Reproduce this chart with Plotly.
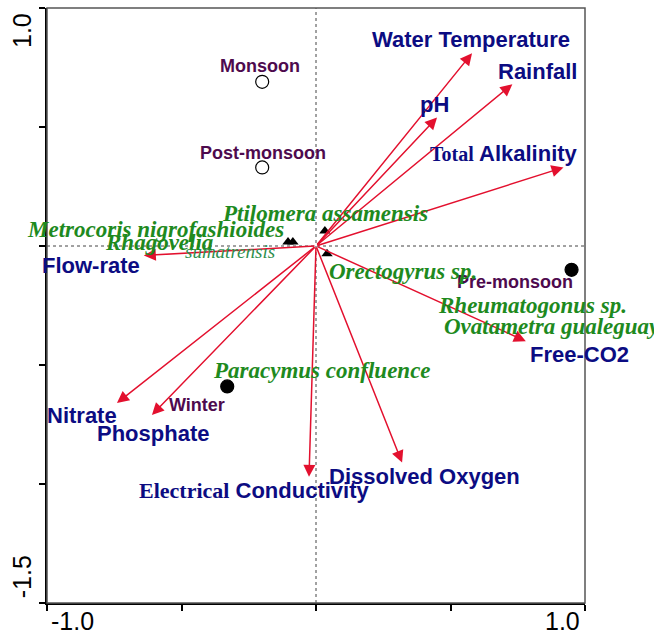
import plotly.graph_objects as go

# ---- Data ----
env_names = ["Water Temperature", "Rainfall", "pH", "Total Alkalinity", "Flow-rate",
             "Nitrate", "Phosphate", "Electrical Conductivity", "Dissolved Oxygen", "Free-CO2"]
env_x = [0.58, 0.73, 0.45, 0.92, -0.64, -0.74, -0.61, -0.026, 0.32, 0.78]
env_y = [0.81, 0.68, 0.54, 0.33, -0.04, -0.66, -0.71, -0.97, -0.91, -0.40]

site_names = ["Monsoon", "Post-monsoon", "Winter", "Pre-monsoon"]
site_x = [-0.20, -0.20, -0.33, 0.95]
site_y = [0.69, 0.33, -0.59, -0.10]
site_filled = [False, False, True, True]

species_x = [-0.104, -0.086, 0.033, 0.041]
species_y = [0.017, 0.017, 0.063, -0.033]
species_names = ["Metrocoris nigrofashioides", "Rhagovelia", "sumatrensis", "Ptilomera assamensis",
                 "Orectogyrus sp.", "Rheumatogonus sp.", "Ovatametra gualeguay", "Paracymus confluence"]

x_tick_vals = [-1.0, -0.5, 0.0, 0.5, 1.0]
y_tick_vals = [-1.5, -1.0, -0.5, 0.0, 0.5, 1.0]

# ---- Label placement (layout) ----
env_lab_pos = [(0.576, 0.866), (0.822, 0.732), (0.442, 0.594), (0.70, 0.389), (-0.836, -0.084),
               (-0.870, -0.711), (-0.606, -0.787), (-0.227, -1.029), (0.405, -0.967), (0.981, -0.456)]
site_lab_pos = [(-0.208, 0.757), (-0.197, 0.389), (-0.442, -0.669), (0.740, -0.151)]
species_lab_pos = [(-0.595, 0.071), (-0.584, 0.013), (-0.320, -0.021), (0.033, 0.138),
                   (0.325, -0.109), (0.803, -0.251), (0.468, -0.339), (0.022, -0.523)]

RED = "#E3102E"
NAVY = "#0C0C82"
PURPLE = "#4E0A4E"
GREEN = "#1E8A1E"
SANS = "Liberation Sans, Arial, sans-serif"
SERIF = "Liberation Serif, Times New Roman, serif"

fig = go.Figure()

# sites
fig.add_trace(go.Scatter(
    x=site_x, y=site_y, mode="markers",
    marker=dict(symbol="circle", size=13,
                color=["black" if f else "white" for f in site_filled],
                line=dict(color="black", width=1.2)),
    showlegend=False, hoverinfo="skip"))

# species
fig.add_trace(go.Scatter(
    x=species_x, y=species_y, mode="markers",
    marker=dict(symbol="triangle-up", size=10, color="black"),
    showlegend=False, hoverinfo="skip"))

annotations = []
# arrows
for ex, ey in zip(env_x, env_y):
    annotations.append(dict(x=ex, y=ey, ax=0, ay=0, xref="x", yref="y", axref="x", ayref="y",
                            text="", showarrow=True, arrowhead=2, arrowsize=1.6,
                            arrowwidth=1.5, arrowcolor=RED))

# env labels
for name, (lx, ly) in zip(env_names, env_lab_pos):
    if name == "Total Alkalinity":
        txt = f"<span style='font-family:{SERIF};font-size:20px'>Total</span> Alkalinity"
    elif name == "Electrical Conductivity":
        txt = f"<span style='font-family:{SERIF};font-size:22px'>Electrical</span> Conductivity"
    else:
        txt = name
    annotations.append(dict(x=lx, y=ly, xref="x", yref="y", text=f"<b>{txt}</b>", showarrow=False,
                            xanchor="center", yanchor="middle",
                            font=dict(family=SANS, size=22, color=NAVY)))

# site labels
for name, (lx, ly) in zip(site_names, site_lab_pos):
    annotations.append(dict(x=lx, y=ly, xref="x", yref="y", text=f"<b>{name}</b>", showarrow=False,
                            xanchor="center", yanchor="middle",
                            font=dict(family=SANS, size=18, color=PURPLE)))

# species labels
for name, (lx, ly) in zip(species_names, species_lab_pos):
    if name == "sumatrensis":
        annotations.append(dict(x=lx, y=ly, xref="x", yref="y", text=f"<i>{name}</i>", showarrow=False,
                                xanchor="center", yanchor="middle",
                                font=dict(family=SERIF, size=19, color="#2E8F4E")))
    else:
        xa = "left" if name == "Ovatametra gualeguay" else "center"
        annotations.append(dict(x=lx, y=ly, xref="x", yref="y", text=f"<b><i>{name}</i></b>",
                                showarrow=False, xanchor=xa, yanchor="middle",
                                font=dict(family=SERIF, size=23, color=GREEN)))

# tick labels (placed inward like the original)
tick_font = dict(family=SANS, size=25, color="black")
annotations += [
    dict(x=-0.0465, y=0.963, xref="paper", yref="paper", text="1.0", textangle=-90, showarrow=False,
         xanchor="center", yanchor="middle", font=tick_font),
    dict(x=-0.0465, y=0.045, xref="paper", yref="paper", text="-1.5", textangle=-90, showarrow=False,
         xanchor="center", yanchor="middle", font=tick_font),
    dict(x=0.048, y=-0.031, xref="paper", yref="paper", text="-1.0", showarrow=False,
         xanchor="center", yanchor="middle", font=dict(family=SANS, size=25, color="black")),
    dict(x=0.959, y=-0.031, xref="paper", yref="paper", text="1.0", showarrow=False,
         xanchor="center", yanchor="middle", font=dict(family=SANS, size=25, color="black")),
]

shapes = [
    dict(type="line", x0=0, x1=0, y0=y_tick_vals[0], y1=y_tick_vals[-1], xref="x", yref="y",
         line=dict(color="#444444", width=1, dash="dot"), layer="below"),
    dict(type="line", x0=x_tick_vals[0], x1=x_tick_vals[-1], y0=0, y1=0, xref="x", yref="y",
         line=dict(color="#444444", width=1, dash="dot"), layer="below"),
    dict(type="rect", x0=0, x1=1, y0=0, y1=1, xref="paper", yref="paper",
         line=dict(color="#555555", width=1.5)),
]

fig.update_layout(
    width=654, height=637,
    margin=dict(l=47, r=69, t=8, b=34),
    paper_bgcolor="white", plot_bgcolor="white",
    annotations=annotations, shapes=shapes,
    xaxis=dict(range=[x_tick_vals[0], x_tick_vals[-1]], tickvals=x_tick_vals, showticklabels=False,
               ticks="outside", ticklen=6, tickwidth=2, tickcolor="black",
               showline=True, linewidth=2, linecolor="black", showgrid=False, zeroline=False),
    yaxis=dict(range=[y_tick_vals[0], y_tick_vals[-1]], tickvals=y_tick_vals, showticklabels=False,
               ticks="outside", ticklen=6, tickwidth=2, tickcolor="black",
               showline=True, linewidth=2, linecolor="black", showgrid=False, zeroline=False),
)

fig.write_html("out.html", config={"displayModeBar": False},
               post_script="document.body.style.margin='0px';document.body.style.overflow='hidden';")
